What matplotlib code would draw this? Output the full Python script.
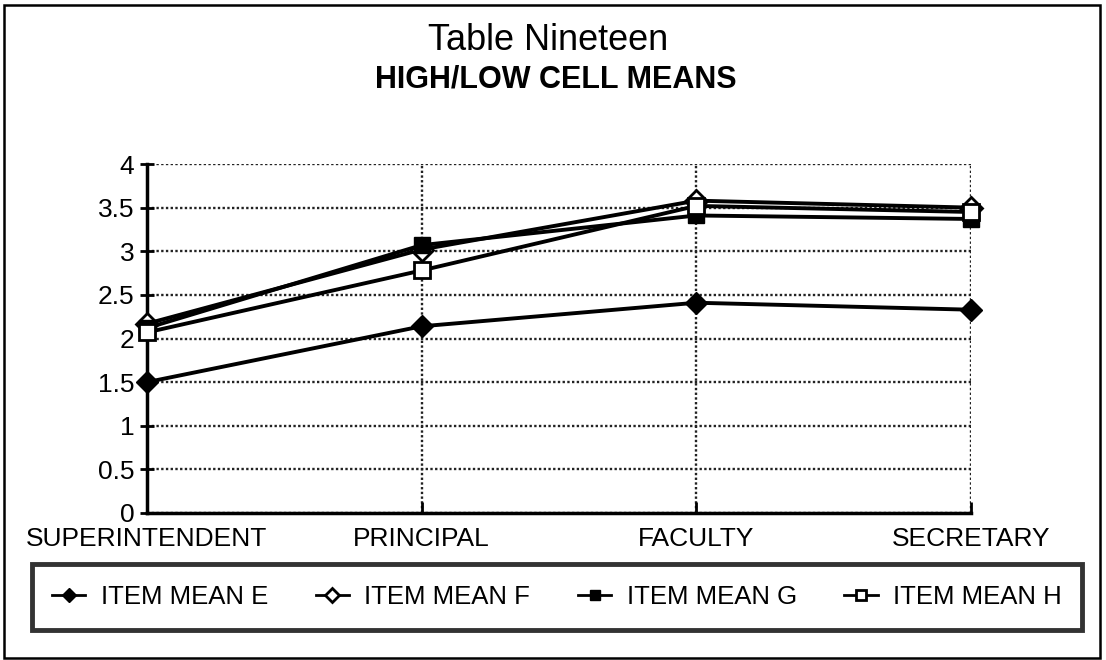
import matplotlib.pyplot as plt
from matplotlib.patches import Rectangle

plt.rcParams['font.family'] = ['Liberation Sans', 'DejaVu Sans']

# data
categories = ['SUPERINTENDENT', 'PRINCIPAL', 'FACULTY', 'SECRETARY']
mean_e = [1.50, 2.14, 2.41, 2.33]
mean_f = [2.17, 3.02, 3.58, 3.50]
mean_g = [2.12, 3.07, 3.41, 3.37]
mean_h = [2.07, 2.78, 3.52, 3.45]
y_ticks = [0, 0.5, 1, 1.5, 2, 2.5, 3, 3.5, 4]

fig = plt.figure(figsize=(11.06, 6.6), dpi=100)
ax = fig.add_axes([147 / 1106, 1 - 513 / 660, (971 - 147) / 1106, (513 - 164) / 660])

x = range(len(categories))
ax.plot(x, mean_e, color='black', lw=2.8, marker='D', ms=11,
        mfc='black', mec='black', label='ITEM MEAN E', clip_on=False, zorder=3)
ax.plot(x, mean_f, color='black', lw=2.8, marker='D', ms=11,
        mfc='white', mec='black', mew=2, label='ITEM MEAN F', clip_on=False, zorder=3)
ax.plot(x, mean_g, color='black', lw=2.8, marker='s', ms=12,
        mfc='black', mec='black', label='ITEM MEAN G', clip_on=False, zorder=3)
ax.plot(x, mean_h, color='black', lw=2.8, marker='s', ms=12,
        mfc='white', mec='black', mew=2, label='ITEM MEAN H', clip_on=False, zorder=3)

ax.set_xlim(0, len(categories) - 1)
ax.set_ylim(0, 4)
ax.set_yticks(y_ticks)
ax.set_yticklabels(['0', '0.5', '1', '1.5', '2', '2.5', '3', '3.5', '4'], fontsize=19)
ax.set_xticks(list(x))
ax.set_xticklabels(categories, fontsize=19)
ax.grid(True, color='#222222', linestyle=(0, (1, 1)), linewidth=1.7)
ax.set_axisbelow(True)
for side in ['top', 'right']:
    ax.spines[side].set_visible(False)
ax.spines['left'].set_linewidth(2.5)
ax.spines['bottom'].set_linewidth(2.5)
ax.tick_params(axis='y', direction='inout', length=10, width=2, pad=4)
ax.tick_params(axis='x', direction='in', length=8, width=2, pad=10)

fig.text(548 / 1106, 1 - 40 / 660, 'Table Nineteen', ha='center', va='center', fontsize=26)
fig.text(556 / 1106, 1 - 79 / 660, 'HIGH/LOW CELL MEANS', ha='center', va='center',
         fontsize=22, fontweight='bold')

leg = fig.legend(loc='center', bbox_to_anchor=(557 / 1106, 1 - 597 / 660), ncol=4,
                 fontsize=18.5, frameon=True, fancybox=False, handlelength=1.3,
                 handletextpad=0.6, columnspacing=1.85, borderpad=0.8, markerscale=0.65)
leg.get_frame().set_edgecolor('black')
leg.get_frame().set_linewidth(3.5)
for line in leg.get_lines():
    line.set_linewidth(2)

# outer border of the whole chart
fig.patches.append(Rectangle((4 / 1106, 1 - 658 / 660), 1096 / 1106, 653 / 660,
                             transform=fig.transFigure, fill=False,
                             edgecolor='black', linewidth=1.8))

fig.savefig('out.png', dpi=100)
